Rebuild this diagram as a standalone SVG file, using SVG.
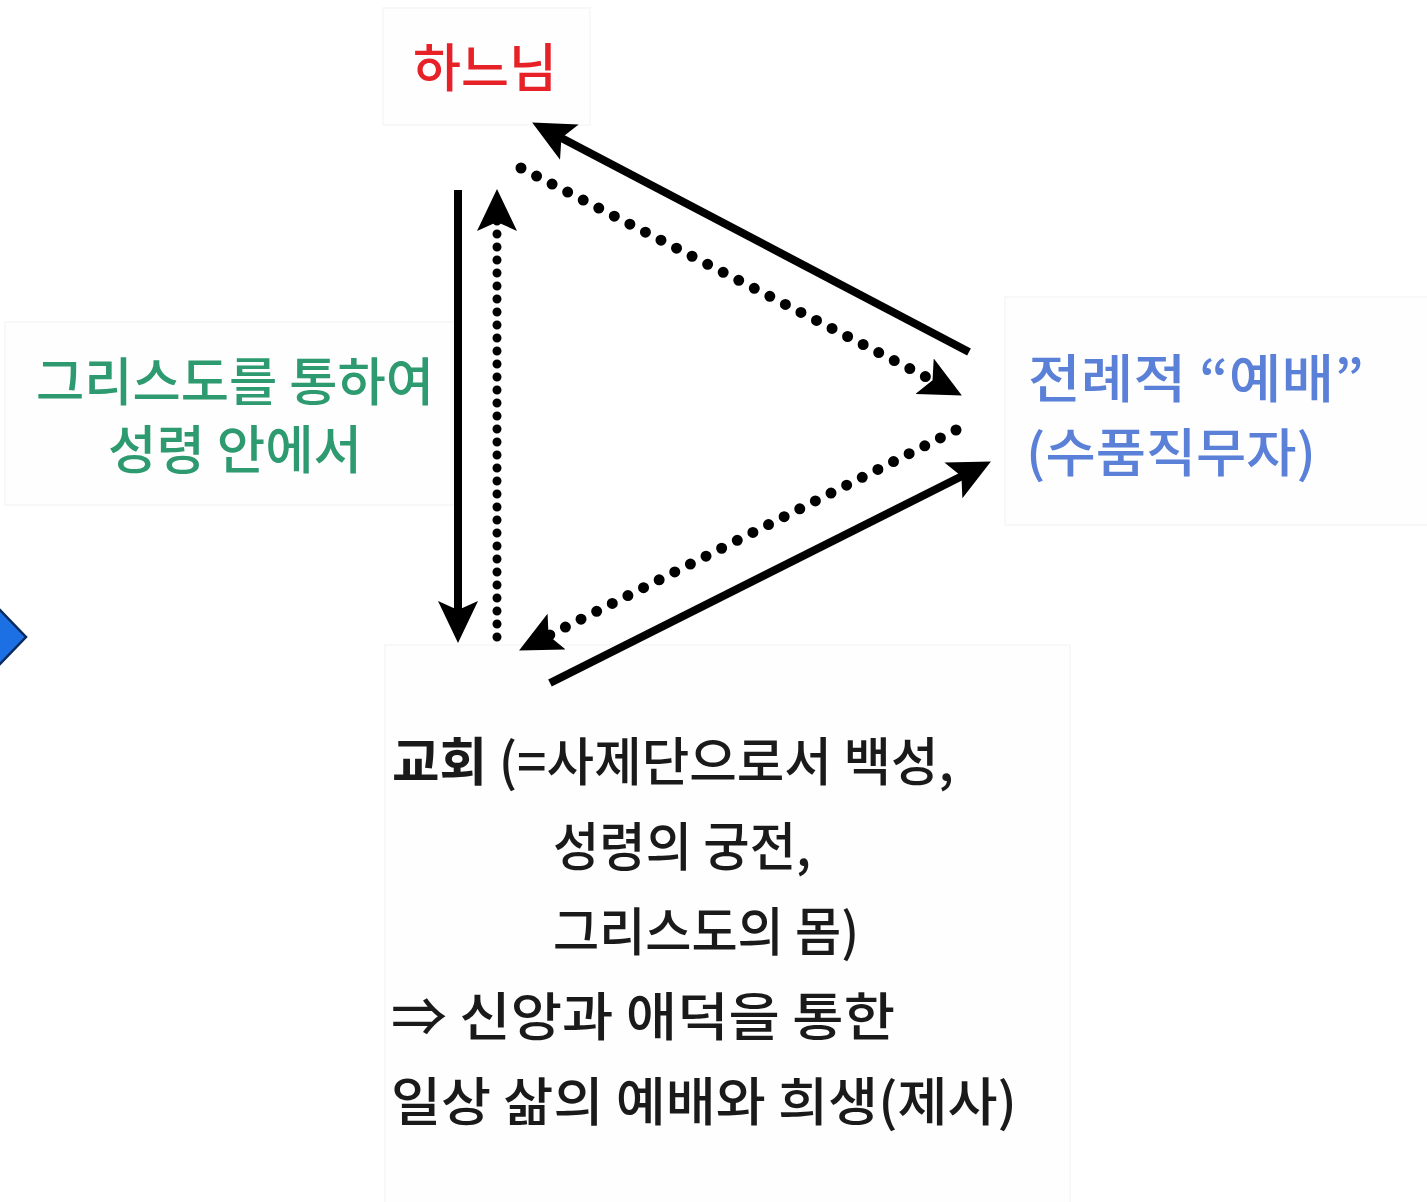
<svg xmlns="http://www.w3.org/2000/svg" width="1427" height="1202" viewBox="0 0 1427 1202">
  <style>
    .lbl { font-family: "Noto Sans CJK KR", "Noto Sans", sans-serif; font-size: 52px; font-weight: 500; }
    .red { fill: #e62128; }
    .green { fill: #2e9a70; }
    .blue { fill: #5b80d8; }
    .blk { fill: #1a1a1a; }
    .box { fill: #fefefe; stroke: #f6f6f6; stroke-width: 1.5; }
    .solid { stroke: #000; stroke-width: 8; fill: none; }
    .dotv { stroke: #000; stroke-width: 9; fill: none; stroke-linecap: round; stroke-dasharray: 0 13; }
    .dotd { stroke: #000; stroke-width: 11; fill: none; stroke-linecap: round; stroke-dasharray: 0 17.5; }
  </style>
  <defs>
    <marker id="ah" markerUnits="userSpaceOnUse" markerWidth="42" markerHeight="40" refX="31" refY="20" orient="auto" viewBox="0 0 42 40">
      <path d="M0,0 L42,20 L0,40 L9,20 z" fill="#000"/>
    </marker>
  </defs>
  <rect width="1427" height="1202" fill="#ffffff"/>

  <g id="boxes">
    <rect class="box" x="383" y="8" width="207" height="117"/>
    <rect class="box" x="5" y="322" width="450" height="183"/>
    <rect class="box" x="1005" y="297" width="430" height="228"/>
    <rect class="box" x="385" y="645" width="685" height="560"/>
  </g>

  <g id="node-god">
    <text class="lbl red" x="485" y="87" text-anchor="middle" textLength="144" lengthAdjust="spacingAndGlyphs">하느님</text>
  </g>

  <g id="node-christ">
    <text class="lbl green" x="235" y="401" text-anchor="middle" textLength="398" lengthAdjust="spacingAndGlyphs">그리스도를 통하여</text>
    <text class="lbl green" x="235" y="469" text-anchor="middle" textLength="254" lengthAdjust="spacingAndGlyphs">성령 안에서</text>
  </g>

  <g id="node-liturgy">
    <text class="lbl blue" x="1028" y="398" textLength="336" lengthAdjust="spacingAndGlyphs">전례적 “예배”</text>
    <text class="lbl blue" x="1026" y="472" textLength="290" lengthAdjust="spacingAndGlyphs">(수품직무자)</text>
  </g>

  <g id="node-church">
    <text class="lbl blk" x="392" y="781" textLength="562" lengthAdjust="spacingAndGlyphs"><tspan font-weight="bold">교회</tspan> (=사제단으로서 백성,</text>
    <text class="lbl blk" x="553" y="866" textLength="258" lengthAdjust="spacingAndGlyphs">성령의 궁전,</text>
    <text class="lbl blk" x="553" y="951" textLength="306" lengthAdjust="spacingAndGlyphs">그리스도의 몸)</text>
    <text class="lbl blk" x="391" y="1036" textLength="504" lengthAdjust="spacingAndGlyphs">⇒ 신앙과 애덕을 통한</text>
    <text class="lbl blk" x="391" y="1121" textLength="626" lengthAdjust="spacingAndGlyphs">일상 삶의 예배와 희생(제사)</text>
  </g>

  <g id="node-marker">
    <polygon points="-26,637 0,610 26,637 0,664" fill="#1d6fe4" stroke="#0b2a5c" stroke-width="2.5"/>
  </g>

  <g id="connectors">
    <line class="solid" x1="969" y1="352" x2="541.9" y2="127.7" marker-end="url(#ah)"/>
    <line class="dotd" x1="521" y1="168" x2="952.1" y2="390.4" marker-end="url(#ah)"/>
    <line class="solid" x1="458" y1="190" x2="458" y2="632" marker-end="url(#ah)"/>
    <line class="dotv" x1="497" y1="637" x2="497" y2="200" marker-end="url(#ah)"/>
    <line class="dotd" x1="956" y1="430" x2="528.9" y2="645.5" marker-end="url(#ah)"/>
    <line class="solid" x1="550" y1="683" x2="981.1" y2="466.5" marker-end="url(#ah)"/>
  </g>
</svg>
